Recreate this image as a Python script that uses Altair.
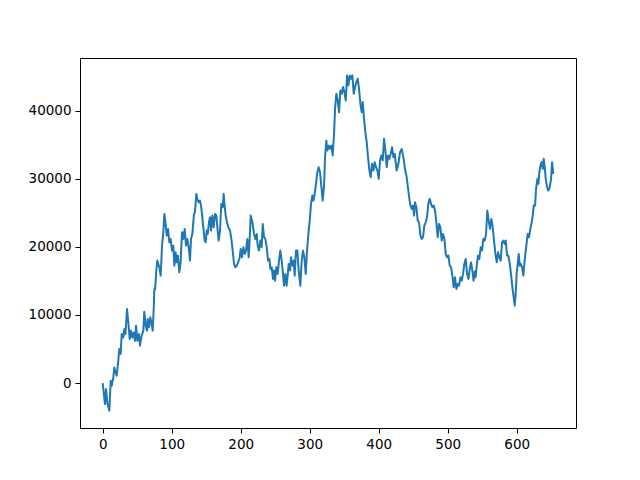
import altair as alt
import pandas as pd

xs = [0, 3.3, 4.8, 6.7, 9.6, 11.6, 13, 15.4, 16.8, 18.8, 20.3, 22.6, 24, 26, 27.5, 29.9, 31.3, 33, 35.2, 37.1,
      39.1, 41, 43, 44.9, 46.8, 48.3, 50.2, 52.6, 54, 56.5, 58.9, 60.3, 62.3, 64.2, 65.2, 67.2, 69, 71, 72.4, 73.9,
      74.8, 76, 77.7, 79.2, 80.6, 82.1, 84, 86, 87.9, 89.3, 90.7, 92.8, 94.7, 96.5, 98.5, 100.4, 102.3, 103.8, 105.7, 107.1,
      109, 111, 112.9, 114.9, 116.8, 118.8, 120.7, 122.6, 124.6, 126.5, 128, 129.9, 132.3, 133.7, 135.7, 137, 139.1, 141, 142.5, 143.9,
      145.8, 147.8, 149.3, 150.7, 152.2, 154, 155.5, 157, 158.9, 160.8, 162.8, 164.7, 166.6, 168.1, 170, 171.9, 173.9, 175.3, 176.7, 178.2,
      180.1, 182, 184.5, 186.4, 188.4, 190.3, 192.3, 194.2, 196.1, 198.1, 200, 201.9, 203.9, 205.8, 207.7, 209.6, 211.6, 212.9,
      214.5, 216.9, 219.3, 221.2, 223.2, 224.6, 226.5, 228.5, 230.4, 231.9, 233.8, 235.7, 237.7, 239.6, 241.6, 243, 244.9, 246.8, 248.3, 249.7,
      251.6, 253.6, 255.5, 257.4, 259.4, 260.8, 262.8, 264.7, 266.6, 268.1, 269.5, 271.5, 272.9, 274.8, 276.8, 278.2, 280.1, 282.1, 284, 286.4,
      288.4, 290.3, 292.2, 294.2, 296.1, 298, 300, 301.9, 303.8, 305.3, 307.2, 309.1, 311, 313, 314.9, 316.8, 318.8, 320.8,
      322.2, 324.1, 325.6, 327.5, 329.4, 331.4, 333.3, 335.3, 336.7, 338.6, 340.6, 342.5, 344.4, 346.4, 348.3, 350.2, 352.2, 354.1, 356, 358,
      359.9, 361.8, 363.8, 365.7, 367.6, 369.6, 371.5, 373.4, 375.4, 376.8, 378.7, 380.6, 382.6, 384.5, 386.5, 388.4, 390.3, 392.3, 394.2, 396.1,
      398.1, 400, 401.9, 403.8, 405.8, 407.7, 409.7, 411.6, 413.5, 415.5, 417.4, 419.3, 421.3, 423.2,
      426, 428.5, 430.9, 433.3, 435.7, 438.1, 440.5, 442.9, 445.4, 447.8, 449.7, 451.2, 452.6, 454.6, 456.5, 458.4, 460.4, 462.3, 464.2, 466.1,
      468.1, 470, 471.9, 473.9, 475.8, 477.7, 479.7, 481.6, 483.5, 485.5, 487.4, 489.3, 491.3, 493.2, 495.2, 497.1, 499, 501, 502.9, 504.8,
      506.7, 508.7, 510.6, 512.6, 514.5, 516.4, 518.4, 520.3, 522.2, 524.1, 526.1, 528, 530, 531.9,
      533.8, 535.7, 537.4, 539.3, 540.5, 542, 543.9, 545.8, 547.8, 549.7, 551.6, 553.6, 555.5, 557.4, 559.4, 561.3, 563.3, 565.2, 567.1, 569.1,
      571, 572.9, 574.9, 576.8, 578.7, 580.7, 582.6, 584.1, 586, 587.9, 589.9, 591.7, 593.7, 595.6, 597.1, 598.6, 600, 601.4, 602.9, 604.3,
      605.8, 607.7, 609.6, 611.1, 612.5, 614.5, 615.9, 617.8, 619.3, 621.3, 623.2, 624.6, 626.6, 628, 630, 631.4, 632.8, 634.3, 636.2, 637.7,
      639.1, 640.6, 642, 644, 645.9, 647.8, 649.8, 651.2, 653]

ys = [0, -3090, -880, -2850, -4070, 340, -400, 820, 2300, 1560, 1070, 3280, 5000, 4260, 7200, 6700, 7940, 7200, 10880, 8900,
      6470, 7700, 6700, 7440, 6200, 8430, 6220, 7200, 5490, 6960, 7700, 10490, 8430, 7700, 9400, 8200, 9650, 8680, 7700, 10880,
      13820, 13800, 16500, 17990, 17500, 17000, 15780, 20190, 22150, 24850, 23870, 21660, 22640, 20680, 21170, 19460, 20190, 17250, 19210, 17730,
      18720, 16260, 17730, 22150, 21170, 22640, 20190, 21170, 19940, 17990, 21170, 21900, 24850, 25100, 27790, 27050, 26560, 26800, 26070, 24850,
      22880, 20930, 20680, 22400, 21900, 23620, 24360, 22400, 24600, 22880, 24850, 24600, 22400, 20930, 22400, 26320, 25830, 27790, 26070, 24600,
      23620, 22880, 22400, 21170, 19460, 17500, 17000, 17250, 17730, 18230, 19700, 18470, 19940, 18970, 19460, 21170, 18470, 20930,
      24600, 23620, 21900, 21170, 21900, 20190, 19460, 20930, 19940, 23380, 21420, 21170, 19940, 17990, 18230, 16770, 17000, 15290, 16520, 15040,
      17000, 16030, 17990, 19460, 17990, 16520, 14310, 16030, 14310, 15780, 17500, 16520, 18470, 17250, 17990, 15780, 19460, 19460, 16520, 14310,
      17990, 19460, 18470, 16030, 19460, 21900, 23870, 26320, 27540, 26800, 27790, 29260, 30970, 31710, 30970, 29010, 26810, 29010,
      33180, 35630, 34160, 34880, 34400, 34880, 33430, 36620, 40290, 42500, 41520, 39790, 42990, 42500, 43480, 42750, 41520, 45190, 43720, 45190,
      44700, 45190, 42500, 43480, 44210, 44700, 43230, 41030, 39790, 41270, 38820, 36850, 35380, 33180, 31220, 30240, 32200, 31220, 32450, 31710,
      31220, 30000, 32690, 33430, 32690, 35880, 34160, 31710, 33430, 32940, 33670, 34650, 33180, 33670,
      31220, 32200, 33910, 34400, 33180, 31470, 30240, 28280, 26320, 25580, 26070, 24600, 26560, 25830, 23870, 23620, 21660, 21170, 21420, 23130,
      23620, 24360, 26320, 27060, 26320, 25830, 26070, 25340, 23620, 21420, 23380, 22880, 20930, 21900, 21170, 18970, 18470, 18720, 17250, 17000,
      15780, 14060, 15530, 13820, 14550, 14310, 15530, 15040, 16030, 17500, 18230, 16030, 15290, 16770,
      17730, 16520, 15040, 16400, 15530, 17250, 18720, 18230, 19940, 19460, 21170, 20930, 21900, 25340, 23870, 22640, 24110, 22880, 20930, 18970,
      17730, 19210, 18470, 17990, 20680, 20930, 20440, 20930, 18720, 18720, 17500, 16030, 14060, 12590, 11370, 13330, 16270, 17500, 18970, 17250,
      17500, 17000, 15780, 17500, 18970, 20680, 21900, 21420, 22400, 23380, 24600, 26070, 26070, 28530, 30000, 29260, 30970, 31960, 32450, 31470,
      32940, 31710, 30000, 28770, 28280, 28770, 30000, 32450, 30730]

x_ticks = [0, 100, 200, 300, 400, 500, 600]
y_ticks = [0, 10000, 20000, 30000, 40000]

df = pd.DataFrame({"x": xs, "y": ys})

axis_common = dict(
    title=None, grid=False, domain=False, format="d",
    tickColor="black", tickWidth=1, tickSize=5, labelPadding=4,
    labelFont="DejaVu Sans", labelFontSize=13.5, labelColor="black",
)

chart = alt.Chart(df).mark_line(
    color="#1f77b4", strokeWidth=2, strokeJoin="round", clip=True
).encode(
    x=alt.X("x:Q", scale=alt.Scale(domain=[-32.9, 685.9], nice=False, zero=False),
            axis=alt.Axis(values=x_ticks, **axis_common)),
    y=alt.Y("y:Q", scale=alt.Scale(domain=[-6603, 47750], nice=False, zero=False),
            axis=alt.Axis(values=y_ticks, **axis_common)),
    order="x:Q",
).properties(
    width=496, height=370,
    padding={"left": 72, "top": 50, "right": 50, "bottom": 45},
    autosize=alt.AutoSizeParams(type="none"),
).configure_view(stroke="black", strokeWidth=1)

chart.save("out.html", embed_options={"renderer": "svg", "actions": False})
